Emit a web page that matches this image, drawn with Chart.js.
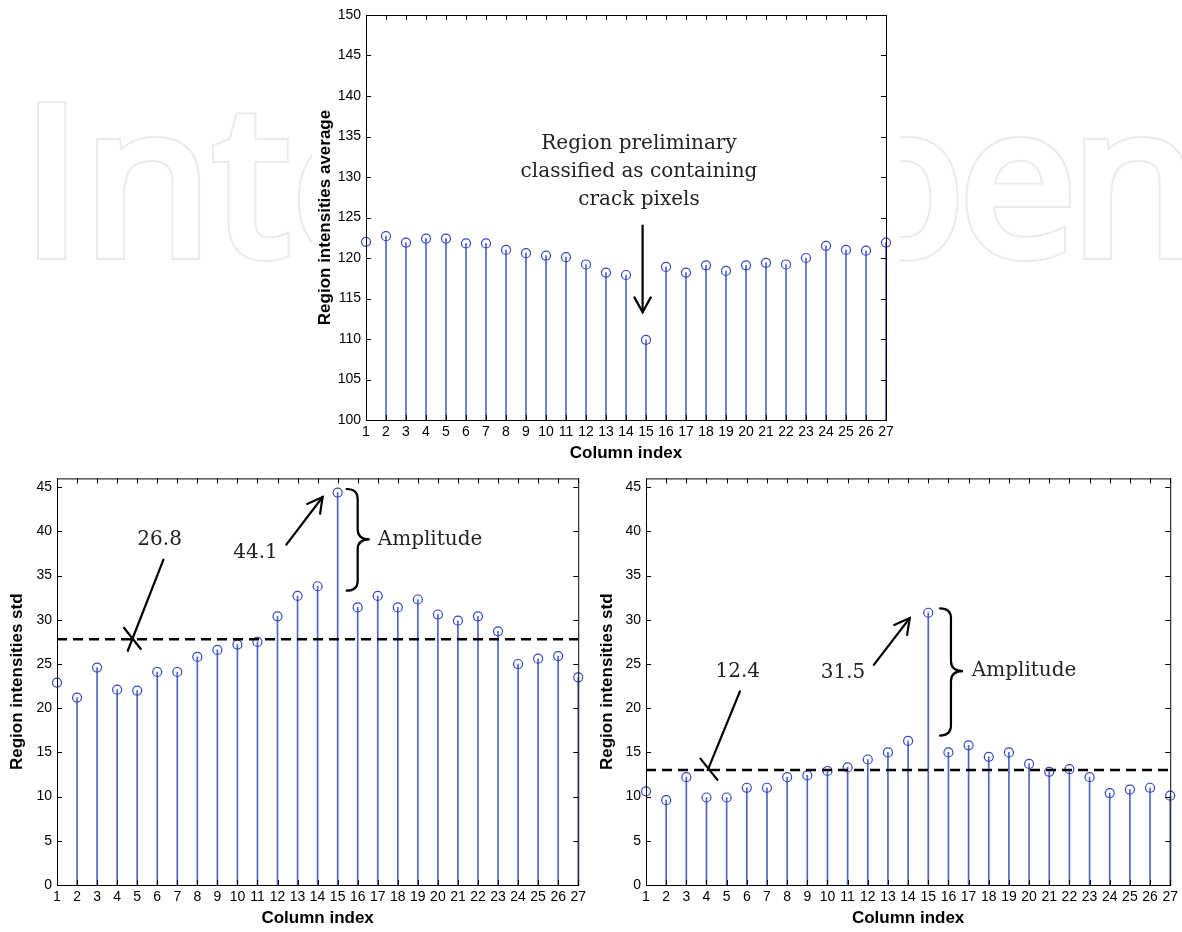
<!DOCTYPE html>
<html>
<head>
<meta charset="utf-8">
<script src="https://cdn.jsdelivr.net/npm/chart.js@4.4.0/dist/chart.umd.min.js"></script>
<style>
  body { margin: 0; background: #fff; width: 1182px; height: 932px; position: relative; overflow: hidden; }
  .wm { position: absolute; top: 71px; font-family: "Open Sans", sans-serif; font-size: 206px; letter-spacing: -4px;
        line-height: 1; white-space: nowrap; -webkit-text-stroke-linejoin: round; }
  .wm.left { left: 23px; letter-spacing: 4px; }
  .wm.right { right: -12px; }
  .wm.ring { color: #ebebeb; -webkit-text-stroke: 12px #ebebeb; }
  .wm.hole { color: #fff; -webkit-text-stroke: 8px #fff; }
  canvas { position: absolute; }
</style>
</head>
<body>
<div class="wm ring left">Intech</div>
<div class="wm hole left">Intech</div>
<div class="wm ring right">Open</div>
<div class="wm hole right">Open</div>
<canvas id="avgChart" width="588" height="470" style="left:312px;top:0"></canvas>
<canvas id="stdChartA" width="590" height="467" style="left:0;top:465px"></canvas>
<canvas id="stdChartB" width="592" height="467" style="left:590px;top:465px"></canvas>
<script>
// column indices along x
const columns = ['1','2','3','4','5','6','7','8','9','10','11','12','13','14','15','16','17','18','19','20','21','22','23','24','25','26','27'];

// region intensities average (top)
const avgValues = [122.0, 122.7, 121.9, 122.4, 122.4, 121.8, 121.8, 121.0, 120.6, 120.3, 120.1, 119.2, 118.2, 117.9,
  109.9, 118.9, 118.2, 119.1, 118.4, 119.1, 119.4, 119.2, 120.0, 121.5, 121.0, 120.9, 121.9];

// region intensities std (bottom left / bottom right)
const stdValuesA = [22.9, 21.2, 24.6, 22.1, 22.0, 24.1, 24.1, 25.8, 26.6, 27.2, 27.5, 30.4, 32.7, 33.8,
  44.4, 31.4, 32.7, 31.4, 32.3, 30.6, 29.9, 30.4, 28.7, 25.0, 25.6, 25.9, 23.5];
const stdValuesB = [10.6, 9.6, 12.2, 9.9, 9.9, 11.0, 11.0, 12.2, 12.4, 12.9, 13.3, 14.2, 15.0, 16.3,
  30.8, 15.0, 15.8, 14.5, 15.0, 13.7, 12.8, 13.1, 12.2, 10.4, 10.8, 11.0, 10.1];

// dashed threshold levels
const thresholdA = 27.8;
const thresholdB = 13.0;

const stemColor = '#4d66c4';
const markColor = '#3346c8';
const noteFont = '20px "DejaVu Serif", serif';

function drawArrow(ctx, x1, y1, x2, y2, head) {
  ctx.beginPath();
  ctx.moveTo(x1, y1);
  ctx.lineTo(x2, y2);
  ctx.stroke();
  if (!head) return;
  const a = Math.atan2(y2 - y1, x2 - x1), L = 17, s = 0.5;
  ctx.beginPath();
  ctx.moveTo(x2 - L * Math.cos(a - s), y2 - L * Math.sin(a - s));
  ctx.lineTo(x2, y2);
  ctx.lineTo(x2 - L * Math.cos(a + s), y2 - L * Math.sin(a + s));
  ctx.stroke();
}

function drawBrace(ctx, x0, yTop, yBot, yMid) {
  const w = 11, tip = 23, r = 10;
  ctx.beginPath();
  ctx.moveTo(x0, yTop);
  ctx.quadraticCurveTo(x0 + w, yTop, x0 + w, yTop + r);
  ctx.lineTo(x0 + w, yMid - r);
  ctx.quadraticCurveTo(x0 + w, yMid, x0 + tip, yMid);
  ctx.quadraticCurveTo(x0 + w, yMid, x0 + w, yMid + r);
  ctx.lineTo(x0 + w, yBot - r);
  ctx.quadraticCurveTo(x0 + w, yBot, x0, yBot);
  ctx.stroke();
}

const stemPlugin = {
  id: 'stemFrame',
  beforeDraw(chart) {
    const ctx = chart.ctx;
    ctx.save();
    ctx.fillStyle = '#fff';
    ctx.fillRect(0, 0, chart.width, chart.height);
    ctx.restore();
  },
  afterDatasetsDraw(chart) {
    const ctx = chart.ctx, a = chart.chartArea;
    const xs = chart.scales.x, ys = chart.scales.y;
    const o = chart.options.plugins.stemFrame || {};
    const px = v => xs.getPixelForValue(v - 1);
    const py = v => ys.getPixelForValue(v);
    ctx.save();

    // dashed threshold
    if (o.threshold !== undefined) {
      ctx.strokeStyle = '#000';
      ctx.lineWidth = 2.5;
      ctx.setLineDash([10, 6]);
      ctx.beginPath();
      ctx.moveTo(a.left, py(o.threshold));
      ctx.lineTo(a.right, py(o.threshold));
      ctx.stroke();
      ctx.setLineDash([]);
    }

    // box + inward ticks
    ctx.strokeStyle = '#000';
    ctx.lineWidth = 1;
    ctx.strokeRect(a.left + 0.5, a.top + 0.5, a.right - a.left, a.bottom - a.top);
    ctx.beginPath();
    columns.forEach((c, i) => {
      const x = Math.round(xs.getPixelForValue(i)) + 0.5;
      ctx.moveTo(x, a.bottom); ctx.lineTo(x, a.bottom - 5);
      ctx.moveTo(x, a.top); ctx.lineTo(x, a.top + 5);
    });
    ys.ticks.forEach(t => {
      const y = Math.round(ys.getPixelForValue(t.value)) + 0.5;
      ctx.moveTo(a.left, y); ctx.lineTo(a.left + 5, y);
      ctx.moveTo(a.right, y); ctx.lineTo(a.right - 5, y);
    });
    ctx.stroke();

    // annotations
    ctx.strokeStyle = '#000';
    ctx.lineWidth = 2.2;
    ctx.lineCap = 'round';
    (o.lines || []).forEach(l => drawArrow(ctx, px(l.x1), py(l.y1), px(l.x2), py(l.y2), l.head));
    (o.braces || []).forEach(b => drawBrace(ctx, px(b.x), py(b.y1), py(b.y2), py(b.ym)));
    ctx.fillStyle = '#222';
    ctx.font = noteFont;
    ctx.textBaseline = 'middle';
    (o.texts || []).forEach(t => {
      ctx.textAlign = t.align || 'center';
      ctx.fillText(t.t, px(t.x), py(t.y));
    });
    ctx.restore();
  }
};

function makeChart(id, values, cfg) {
  return new Chart(document.getElementById(id), {
    data: {
      labels: columns,
      datasets: [
        { type: 'bar', data: values, backgroundColor: stemColor, barThickness: 1, base: cfg.min, order: 2 },
        { type: 'line', data: values, showLine: false, pointStyle: 'circle', pointRadius: 4.5,
          pointBorderWidth: 1.2, pointBorderColor: markColor, pointBackgroundColor: 'rgba(0,0,0,0)',
          clip: false, order: 1 }
      ]
    },
    options: {
      responsive: false,
      devicePixelRatio: 1,
      animation: false,
      layout: { padding: { top: cfg.padTop, right: cfg.padRight, left: 0, bottom: 0 } },
      plugins: { legend: { display: false }, tooltip: { enabled: false }, stemFrame: cfg.notes },
      scales: {
        x: {
          type: 'category', offset: false,
          grid: { display: false, drawTicks: false },
          border: { display: false },
          ticks: { color: '#000', font: { family: '"Liberation Sans", Arial', size: 14 }, padding: 4,
                   autoSkip: false, maxRotation: 0 },
          title: { display: true, text: 'Column index', color: '#000',
                   font: { family: '"Liberation Sans", Arial', size: 17, weight: 'bold' },
                   padding: { top: 0, bottom: cfg.xTitlePad } },
          afterFit: s => { s.height = cfg.xHeight; }
        },
        y: {
          min: cfg.min, max: cfg.max,
          grid: { display: false, drawTicks: false },
          border: { display: false },
          ticks: { stepSize: 5, includeBounds: false, color: '#000',
                   font: { family: '"Liberation Sans", Arial', size: 14 }, padding: 5 },
          title: { display: true, text: cfg.yTitle, color: '#000',
                   font: { family: '"Liberation Sans", Arial', size: 17, weight: 'bold' },
                   padding: { top: cfg.yTitlePad, bottom: 0 } },
          afterFit: s => { s.width = cfg.yWidth; }
        }
      }
    },
    plugins: [stemPlugin]
  });
}

makeChart('avgChart', avgValues, {
  min: 100, max: 150, padTop: 15, padRight: 14, xHeight: 50, yWidth: 54, xTitlePad: 6, yTitlePad: 3,
  yTitle: 'Region intensities average',
  notes: {
    texts: [
      { x: 14.65, y: 134.1, t: 'Region preliminary' },
      { x: 14.65, y: 130.6, t: 'classified as containing' },
      { x: 14.65, y: 127.2, t: 'crack pixels' }
    ],
    lines: [{ x1: 14.83, y1: 124.0, x2: 14.83, y2: 113.3, head: true }]
  }
});

makeChart('stdChartA', stdValuesA, {
  min: 0, max: 46, padTop: 9, padRight: 11, xHeight: 47, yWidth: 57, xTitlePad: 3, yTitlePad: 7,
  yTitle: 'Region intensities std',
  notes: {
    threshold: thresholdA,
    texts: [
      { x: 6.12, y: 39.1, t: '26.8' },
      { x: 10.9, y: 37.6, t: '44.1' },
      { x: 17.0, y: 39.1, t: 'Amplitude', align: 'left' }
    ],
    lines: [
      { x1: 6.31, y1: 36.8, x2: 4.53, y2: 26.5 },
      { x1: 4.34, y1: 29.1, x2: 5.18, y2: 26.7 },
      { x1: 12.44, y1: 38.5, x2: 14.25, y2: 43.9, head: true }
    ],
    braces: [{ x: 15.45, y1: 44.8, y2: 33.3, ym: 39.1 }]
  }
});

makeChart('stdChartB', stdValuesB, {
  min: 0, max: 46, padTop: 8, padRight: 4, xHeight: 47, yWidth: 56, xTitlePad: 3, yTitlePad: 7,
  yTitle: 'Region intensities std',
  notes: {
    threshold: thresholdB,
    texts: [
      { x: 5.55, y: 24.1, t: '12.4' },
      { x: 10.77, y: 24.0, t: '31.5' },
      { x: 17.16, y: 24.2, t: 'Amplitude', align: 'left' }
    ],
    lines: [
      { x1: 5.66, y1: 21.9, x2: 4.06, y2: 13.0 },
      { x1: 3.7, y1: 14.3, x2: 4.54, y2: 11.9 },
      { x1: 12.3, y1: 24.9, x2: 14.08, y2: 30.2, head: true }
    ],
    braces: [{ x: 15.58, y1: 31.3, y2: 16.9, ym: 24.2 }]
  }
});
</script>
</body>
</html>
